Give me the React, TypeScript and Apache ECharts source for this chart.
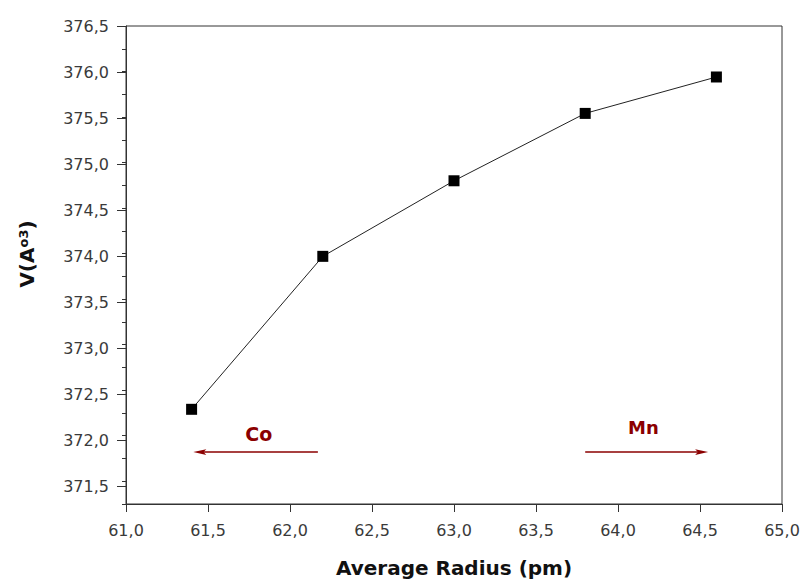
import React, { useEffect, useRef } from "react";
import * as echarts from "echarts";

const radius = [61.4, 62.2, 63.0, 63.8, 64.6];
const volume = [372.29, 373.97, 374.8, 375.54, 375.94];
const arrowCo = { name: "Co", from: [62.17, 371.82], to: [61.45, 371.82] };
const arrowMn = { name: "Mn", from: [63.8, 371.82], to: [64.51, 371.82] };

const GRID_LEFT = 126;
const GRID_RIGHT = 21;
const GRID_TOP = 26;
const GRID_BOTTOM = 74;
const Y_MIN = 371.25;
const Y_MAX = 376.5;
const pxPerUnit = (583 - GRID_TOP - GRID_BOTTOM) / (Y_MAX - Y_MIN);

const fmt = (v: number) => v.toFixed(1).replace(".", ",");
const labelFont = "DejaVu Sans";
const dark = "#8b0000";

export default function App() {
  const ref = useRef<HTMLDivElement>(null);
  useEffect(() => {
    const chart = echarts.init(ref.current!, null, { renderer: "svg" });
    const arrowItem = (a: typeof arrowCo, dist: number, size: number) => {
      const label = {
        show: true,
        position: "insideMiddleTop",
        distance: dist,
        formatter: a.name,
        color: dark,
        fontWeight: "bold",
        fontSize: size,
        fontFamily: labelFont,
      };
      return [
        { name: a.name, coord: a.from, label },
        { coord: a.to, label },
      ];
    };
    chart.setOption({
      animation: false,
      backgroundColor: "#fff",
      grid: [
        {
          left: GRID_LEFT,
          right: GRID_RIGHT,
          top: GRID_TOP,
          bottom: GRID_BOTTOM,
          show: true,
          borderColor: "#333",
          borderWidth: 1,
        },
        {
          left: GRID_LEFT,
          right: GRID_RIGHT,
          top: GRID_TOP,
          bottom: GRID_BOTTOM + (371.5 - Y_MIN) * pxPerUnit,
          show: false,
        },
      ],
      xAxis: [
        {
          type: "value",
          gridIndex: 0,
          min: 61,
          max: 65,
          interval: 0.5,
          splitLine: { show: false },
          axisLine: { show: true, onZero: false, lineStyle: { color: "#333", width: 1 } },
          axisTick: { show: true, inside: false, length: 8, lineStyle: { color: "#333" } },
          axisLabel: {
            formatter: (v: number) => fmt(v),
            fontFamily: labelFont,
            fontSize: 16,
            color: "#3a3a3a",
            margin: 18,
          },
          name: "Average Radius (pm)",
          nameLocation: "middle",
          nameGap: 54,
          nameTextStyle: {
            fontFamily: labelFont,
            fontWeight: "bold",
            fontSize: 20,
            color: "#111",
          },
        },
        {
          type: "value",
          gridIndex: 1,
          min: 61,
          max: 65,
          show: false,
        },
      ],
      yAxis: [
        {
          type: "value",
          gridIndex: 0,
          min: Y_MIN,
          max: Y_MAX,
          interval: 0.25,
          splitLine: { show: false },
          axisLine: { show: true, onZero: false, lineStyle: { color: "#333", width: 1 } },
          axisTick: { show: true, inside: false, length: 4, lineStyle: { color: "#333" } },
          axisLabel: { show: false },
        },
        {
          type: "value",
          gridIndex: 1,
          min: 371.5,
          max: Y_MAX,
          interval: 0.5,
          splitLine: { show: false },
          axisLine: { show: false },
          axisTick: { show: true, inside: false, length: 9, lineStyle: { color: "#333" } },
          axisLabel: {
            formatter: (v: number) => fmt(v),
            fontFamily: labelFont,
            fontSize: 16,
            color: "#3a3a3a",
            margin: 17,
          },
        },
      ],
      graphic: [
        {
          type: "text",
          x: 27,
          y: 254,
          rotation: Math.PI / 2,
          style: {
            text: "V(A{s|o3}{n|)}",
            align: "center",
            verticalAlign: "middle",
            fill: "#111",
            fontFamily: labelFont,
            fontWeight: "bold",
            fontSize: 20,
            rich: {
              s: {
                fontFamily: labelFont,
                fontWeight: "bold",
                fontSize: 13,
                verticalAlign: "top",
                fill: "#111",
              },
              n: {
                fontFamily: labelFont,
                fontWeight: "bold",
                fontSize: 20,
                fill: "#111",
              },
            },
          },
        },
      ],
      series: [
        {
          type: "line",
          xAxisIndex: 0,
          yAxisIndex: 0,
          data: radius.map((r, i) => [r, volume[i]]),
          symbol: "rect",
          symbolSize: 11,
          itemStyle: { color: "#000" },
          lineStyle: { color: "#222", width: 1 },
          silent: true,
          markLine: {
            silent: true,
            symbol: ["none", "path://M3,0 L6,14 L3,11 L0,14 Z"],
            symbolSize: 13,
            symbolKeepAspect: true,
            lineStyle: { color: dark, width: 1.5, type: "solid" },
            itemStyle: { color: dark },
            data: [arrowItem(arrowCo, 9, 19), arrowItem(arrowMn, 16, 18)],
          },
        },
      ],
    });
    return () => chart.dispose();
  }, []);
  return (
    <div
      ref={ref}
      style={{ position: "absolute", left: 0, top: 0, width: 803, height: 583 }}
    />
  );
}
